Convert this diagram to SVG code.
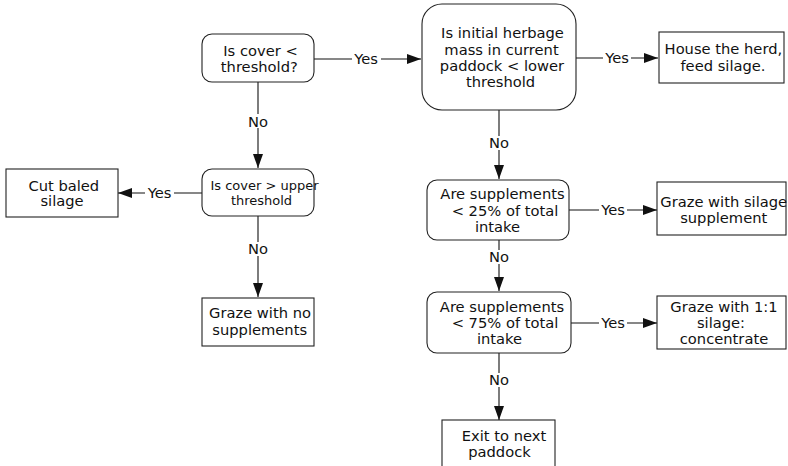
<svg xmlns="http://www.w3.org/2000/svg" width="788" height="466" viewBox="0 0 788 466">
<style>
.box{fill:#fff;stroke:#222;stroke-width:1.1}
.t{font-family:"DejaVu Sans",Verdana,sans-serif;font-size:14.7px;fill:#111;text-anchor:middle}
.s{font-size:13px}
.ln{stroke:#111;stroke-width:1.1;fill:none}
.lb{fill:#fff}
</style>
<defs>
<marker id="ah" viewBox="0 0 14 10" refX="14" refY="5" markerWidth="14" markerHeight="10" markerUnits="userSpaceOnUse" orient="auto">
<path d="M0,0L14,5L0,10z" fill="#111"/>
</marker>
</defs>
<rect width="788" height="466" fill="#fff"/>
<g id="connectors">
<path class="ln" d="M314,59H421" marker-end="url(#ah)"/>
<rect class="lb" x="352" y="52" width="29" height="14"/>
<text class="t" x="366" y="64.3">Yes</text>
<path class="ln" d="M576,58H658" marker-end="url(#ah)"/>
<rect class="lb" x="603" y="51" width="28" height="14"/>
<text class="t" x="617" y="63">Yes</text>
<path class="ln" d="M499,110V179" marker-end="url(#ah)"/>
<rect class="lb" x="489" y="136" width="20" height="14"/>
<text class="t" x="499" y="148">No</text>
<path class="ln" d="M569,210H657" marker-end="url(#ah)"/>
<rect class="lb" x="599" y="203" width="28" height="14"/>
<text class="t" x="613" y="215.3">Yes</text>
<path class="ln" d="M499,240V291" marker-end="url(#ah)"/>
<rect class="lb" x="489" y="250" width="20" height="14"/>
<text class="t" x="499" y="262">No</text>
<path class="ln" d="M571,323H657" marker-end="url(#ah)"/>
<rect class="lb" x="599" y="316" width="28" height="14"/>
<text class="t" x="613" y="328.3">Yes</text>
<path class="ln" d="M499,353V420" marker-end="url(#ah)"/>
<rect class="lb" x="489" y="373" width="20" height="14"/>
<text class="t" x="499" y="385">No</text>
<path class="ln" d="M258,82V168" marker-end="url(#ah)"/>
<rect class="lb" x="248" y="114" width="20" height="14"/>
<text class="t" x="258" y="126.5">No</text>
<path class="ln" d="M202,193H118" marker-end="url(#ah)"/>
<rect class="lb" x="145" y="186" width="29" height="14"/>
<text class="t" x="159.5" y="198">Yes</text>
<path class="ln" d="M258,216V297" marker-end="url(#ah)"/>
<rect class="lb" x="248" y="242" width="20" height="14"/>
<text class="t" x="258" y="254.3">No</text>
</g>
<g id="n1">
<rect class="box" x="202" y="34" width="112" height="48" rx="10"/>
<text class="t" x="260.5" y="55.7">Is cover &lt;</text>
<text class="t" x="259.3" y="71.7">threshold?</text>
</g>
<g id="n2">
<rect class="box" x="422" y="4" width="154" height="106" rx="20"/>
<text class="t" x="502.5" y="37.7">Is initial herbage</text>
<text class="t" x="501.5" y="54.8">mass in current</text>
<text class="t" x="502" y="71.4">paddock &lt; lower</text>
<text class="t" x="500.5" y="87.3">threshold</text>
</g>
<g id="n3">
<rect class="box" x="659" y="32" width="125" height="51"/>
<text class="t" x="723.4" y="54.3">House the herd,</text>
<text class="t" x="723" y="70.7">feed silage.</text>
</g>
<g id="n4">
<rect class="box" x="427" y="180" width="142" height="60" rx="10"/>
<text class="t" x="502.5" y="199.3">Are supplements</text>
<text class="t" x="505" y="215.7">&lt; 25% of total</text>
<text class="t" x="497.5" y="232">intake</text>
</g>
<g id="n5">
<rect class="box" x="657" y="182" width="129" height="53"/>
<text class="t" x="723.7" y="206.7">Graze with silage</text>
<text class="t" x="723.7" y="223.3">supplement</text>
</g>
<g id="n6">
<rect class="box" x="427" y="292" width="144" height="61" rx="10"/>
<text class="t" x="502" y="311.7">Are supplements</text>
<text class="t" x="505" y="327.7">&lt; 75% of total</text>
<text class="t" x="499.5" y="344">intake</text>
</g>
<g id="n7">
<rect class="box" x="657" y="296" width="129" height="53"/>
<text class="t" x="724" y="311.7">Graze with 1:1</text>
<text class="t" x="721" y="328.3">silage:</text>
<text class="t" x="724" y="344">concentrate</text>
</g>
<g id="n8">
<rect class="box" x="442" y="420" width="113" height="50"/>
<text class="t" x="504" y="441">Exit to next</text>
<text class="t" x="499.5" y="457.3">paddock</text>
</g>
<g id="n9">
<rect class="box" x="202" y="169" width="112" height="47" rx="10"/>
<text class="t s" x="264.5" y="189.5">Is cover &gt; upper</text>
<text class="t s" x="261.5" y="205">threshold</text>
</g>
<g id="n10">
<rect class="box" x="6" y="169" width="112" height="48"/>
<text class="t" x="63.8" y="190.7">Cut baled</text>
<text class="t" x="62" y="206">silage</text>
</g>
<g id="n11">
<rect class="box" x="202" y="298" width="112" height="48"/>
<text class="t" x="260" y="318.3">Graze with no</text>
<text class="t" x="259.7" y="335">supplements</text>
</g>
</svg>
